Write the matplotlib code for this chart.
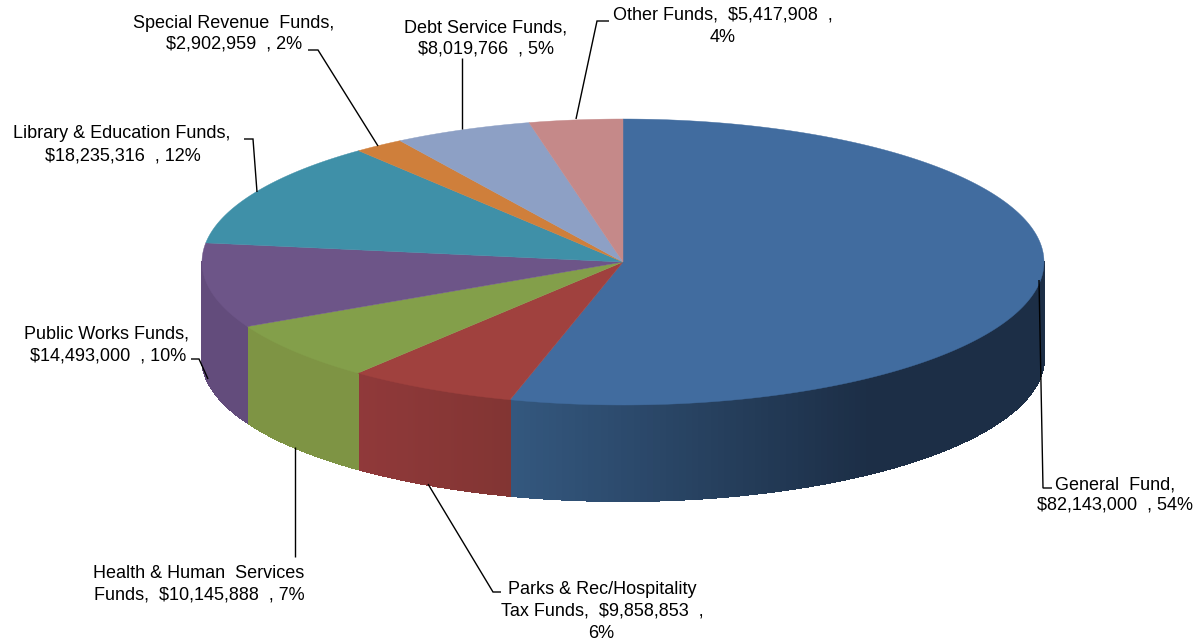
# 3D style pie of funds
import numpy as np
import matplotlib
matplotlib.use("Agg")
import matplotlib.pyplot as plt
from matplotlib.collections import PolyCollection
from matplotlib.colors import to_rgb

funds = [
    "General Fund",
    "Parks & Rec/Hospitality Tax Funds",
    "Health & Human Services Funds",
    "Public Works Funds",
    "Library & Education Funds",
    "Special Revenue Funds",
    "Debt Service Funds",
    "Other Funds",
]
amounts = [82143000, 9858853, 10145888, 14493000, 18235316, 2902959, 8019766, 5417908]
top_colors = ["#416C9F", "#A0413E", "#839F4A", "#6D5588", "#3F90A8", "#CF7F3B", "#8DA0C5", "#C58989"]
# wall shading, left end and right end of each slice
wall_left = ["#34587F", "#90393A", "#7E9444", "#634C7C", "#3F90A8", "#CF7F3B", "#8DA0C5", "#C58989"]
wall_right = ["#1C2E46", "#823533", "#7E9444", "#634C7C", "#3F90A8", "#CF7F3B", "#8DA0C5", "#C58989"]

# label lines: text, x centre, y centre
label_lines = [
    ("General  Fund,", 1115, 485),
    ("$82,143,000  , 54%", 1115, 505),
    ("Parks & Rec/Hospitality", 602, 590),
    ("Tax Funds,  $9,858,853  ,", 602, 611),
    ("6%", 601, 633),
    ("Health & Human  Services", 199, 574),
    ("Funds,  $10,145,888  , 7%", 199, 595),
    ("Public Works Funds,", 106, 334),
    ("$14,493,000  , 10%", 108, 356),
    ("Library & Education Funds,", 122, 134),
    ("$18,235,316  , 12%", 123, 156),
    ("Special Revenue  Funds,", 234, 23),
    ("$2,902,959  , 2%", 234, 44),
    ("Debt Service Funds,", 486, 28),
    ("$8,019,766  , 5%", 486, 49),
    ("Other Funds,  $5,417,908  ,", 723, 15),
    ("4%", 723, 37),
]
leaders = [
    [(1039, 280), (1043, 488), (1052, 488)],
    [(428, 484), (493, 592), (501, 592)],
    [(295, 447), (295, 557)],
    [(191, 359), (199, 359), (208, 379)],
    [(244, 139), (253, 139), (257, 192)],
    [(308, 50), (318, 50), (378, 146)],
    [(462, 58), (462, 129)],
    [(609, 21), (597, 21), (576, 119)],
]

cx, cy, rx, ry, depth = 623, 262, 421, 143, 96


def rim(t):
    return cx + rx * np.sin(t), cy - ry * np.cos(t)


plt.rcParams["font.family"] = ["Liberation Sans", "DejaVu Sans"]
fig = plt.figure(figsize=(11.99, 6.43), dpi=100)
ax = fig.add_axes([0, 0, 1, 1])
ax.set_xlim(0, 1199)
ax.set_ylim(643, 0)
ax.axis("off")

fracs = np.array(amounts) / sum(amounts)
edges = np.concatenate([[0], np.cumsum(fracs)]) * 2 * np.pi

# side walls, only the front half shows
for i in range(len(amounts)):
    a = max(edges[i], np.pi / 2)
    b = min(edges[i + 1], 3 * np.pi / 2)
    if a >= b:
        continue
    ts = np.linspace(a, b, 120)
    xs, ys = rim(ts)
    polys = []
    cols = []
    c0 = np.array(to_rgb(wall_left[i]))
    c1 = np.array(to_rgb(wall_right[i]))
    # general fund gets dark at about x=870, others go over the whole slice
    x_lo, x_hi = (510, 870) if i == 0 else (xs.min(), xs.max())
    for j in range(len(ts) - 1):
        polys.append([(xs[j], ys[j]), (xs[j + 1], ys[j + 1]),
                      (xs[j + 1], ys[j + 1] + depth), (xs[j], ys[j] + depth)])
        f = np.clip((xs[j] - x_lo) / (x_hi - x_lo), 0, 1)
        cols.append(c0 + (c1 - c0) * f)
    # no antialiasing here, it leaves streaks between the strips
    ax.add_collection(PolyCollection(polys, facecolors=cols, edgecolors=cols,
                                     linewidths=0.8, antialiaseds=False))

# top face
for i in range(len(amounts)):
    ts = np.linspace(edges[i], edges[i + 1], 200)
    xs, ys = rim(ts)
    ax.fill(np.r_[cx, xs], np.r_[cy, ys], color=top_colors[i], lw=0.3)

for pts in leaders:
    ax.plot([p[0] for p in pts], [p[1] for p in pts], color="black", lw=1.0,
            solid_joinstyle="miter", solid_capstyle="butt")

for text, x, y in label_lines:
    ax.text(x, y, text, ha="center", va="center", fontsize=13, color="black")

fig.savefig("out.png", dpi=100, facecolor="white")
